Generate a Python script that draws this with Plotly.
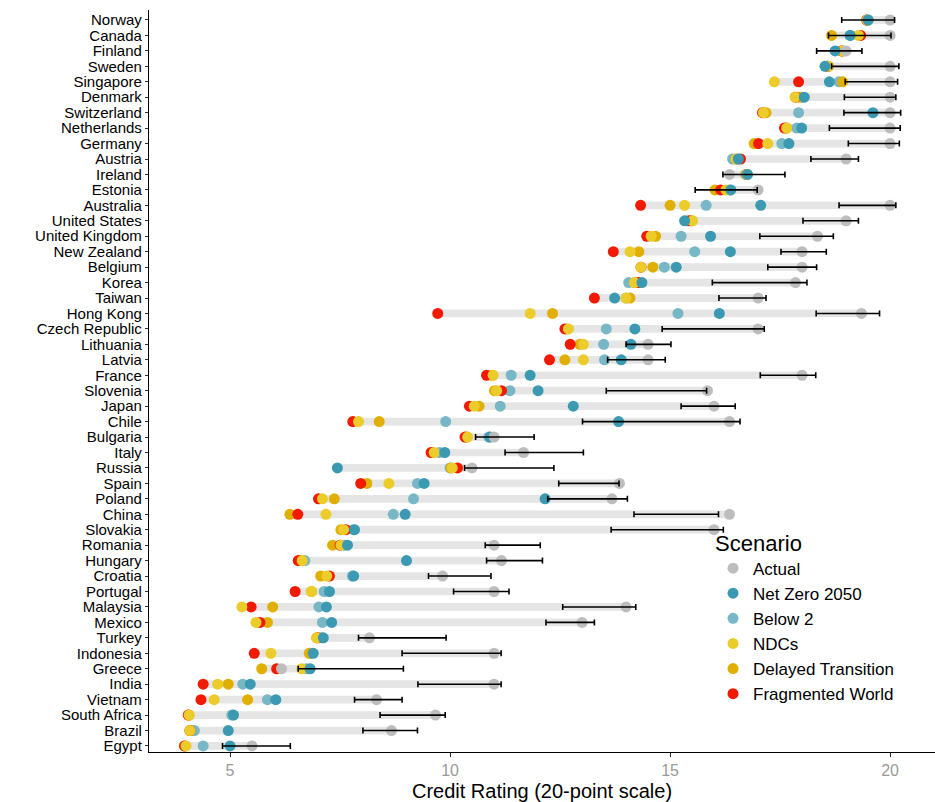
import plotly.graph_objects as go

countries = ["Norway", "Canada", "Finland", "Sweden", "Singapore", "Denmark", "Switzerland",
             "Netherlands", "Germany", "Austria", "Ireland", "Estonia", "Australia",
             "United States", "United Kingdom", "New Zealand", "Belgium", "Korea", "Taiwan",
             "Hong Kong", "Czech Republic", "Lithuania", "Latvia", "France", "Slovenia", "Japan",
             "Chile", "Bulgaria", "Italy", "Russia", "Spain", "Poland", "China", "Slovakia",
             "Romania", "Hungary", "Croatia", "Portugal", "Malaysia", "Mexico", "Turkey",
             "Indonesia", "Greece", "India", "Vietnam", "South Africa", "Brazil", "Egypt"]

actual = [20.0, 20.0, 19.0, 20.0, 20.0, 20.0, 20.0, 20.0, 20.0, 19.0, 16.35, 17.0, 20.0,
          19.0, 18.35, 18.0, 18.0, 17.85, 17.0, 19.35, 17.0, 14.5, 14.5, 18.0, 15.85, 16.0,
          16.35, 11.0, 11.67, 10.5, 13.85, 13.68, 16.35, 16.0, 11.0, 11.17, 9.83, 11.0,
          14.0, 13.0, 8.17, 11.0, 6.17, 11.0, 8.33, 9.67, 8.67, 5.5]

net_zero = [19.5, 19.09, 18.75, 18.52, 18.62, 18.05, 19.61, 17.99, 17.7, 16.55, 16.76, 16.38,
            17.06, 15.33, 15.92, 16.37, 15.14, 14.36, 13.74, 16.12, 14.2, 14.11, 13.89, 11.82,
            12.0, 12.8, 13.83, 10.91, 9.88, 7.44, 9.41, 12.16, 8.98, 7.83, 7.67, 9.01, 7.81,
            7.26, 7.19, 7.31, 7.12, 6.89, 6.82, 5.46, 6.04, 5.08, 4.96, 5.0]

below2 = [19.5, 19.1, 18.95, 18.55, 18.84, 18.0, 17.92, 17.88, 17.54, 16.42, 16.72, 16.35,
          15.82, 15.4, 15.25, 15.56, 14.87, 14.06, 14.0, 15.18, 13.55, 13.49, 13.51, 11.39,
          11.36, 11.14, 9.9, 10.88, 9.76, 10.0, 9.26, 9.17, 8.71, 7.8, 7.6, 6.7, 7.78, 7.14,
          7.02, 7.1, 7.08, 6.82, 6.74, 5.29, 5.85, 5.04, 4.19, 4.39]

ndcs = [19.48, 19.28, 18.92, 18.6, 17.37, 17.84, 17.12, 17.65, 17.22, 16.5, 16.74, 16.27,
        15.33, 15.51, 14.57, 14.09, 14.34, 14.19, 14.0, 11.82, 12.69, 13.03, 13.03, 10.98,
        11.06, 10.55, 7.92, 10.4, 9.64, 10.05, 8.61, 7.1, 7.18, 7.58, 7.52, 6.64, 7.2, 6.85,
        5.27, 5.59, 6.97, 5.93, 6.63, 4.72, 4.64, 4.07, 4.09, 4.0]

delayed = [19.47, 18.67, 18.9, 18.6, 18.92, 17.95, 17.18, 17.65, 16.91, 16.5, 16.74, 16.02,
           15.0, 15.5, 14.67, 14.29, 14.61, 14.2, 14.09, 12.33, 12.66, 12.95, 12.61, 10.95,
           11.01, 10.66, 8.39, 10.38, 9.6, 10.02, 8.11, 7.37, 6.36, 7.52, 7.33, 6.6, 7.06, 6.85,
           5.97, 5.85, 6.97, 6.8, 5.72, 4.96, 5.4, 4.07, 4.09, 3.96]

fragmented = [19.47, 19.33, 18.9, 18.58, 17.92, 17.85, 17.1, 17.6, 17.01, 16.6, 16.74, 16.15,
              14.33, 15.45, 14.47, 13.71, 14.34, 14.28, 13.28, 9.72, 12.61, 12.73, 12.26, 10.83,
              11.17, 10.44, 7.79, 10.34, 9.57, 10.17, 7.97, 7.01, 6.54, 7.63, 7.5, 6.55, 7.26,
              6.48, 5.48, 5.68, 7.0, 5.55, 6.06, 4.39, 4.34, 4.05, 4.09, 3.97]

err_lo = [18.9, 18.6, 18.33, 18.67, 18.98, 18.96, 18.95, 18.62, 19.05, 18.2, 16.2, 15.57,
          18.84, 18.02, 17.04, 17.52, 17.22, 15.96, 16.11, 18.32, 14.82, 14.0, 13.58, 17.05,
          13.55, 15.25, 13.01, 10.58, 11.25, 10.33, 12.47, 12.22, 14.18, 13.66, 10.8, 10.83,
          9.51, 10.08, 12.56, 12.18, 7.92, 8.91, 6.55, 9.27, 7.83, 8.41, 8.02, 4.83]

err_hi = [20.1, 20.02, 19.36, 20.2, 20.17, 20.13, 20.24, 20.23, 20.21, 19.28, 17.61, 16.98,
          20.13, 19.28, 18.71, 18.55, 18.33, 18.11, 17.18, 19.76, 17.14, 15.02, 14.89, 18.31,
          15.83, 16.48, 16.59, 11.91, 13.03, 12.36, 13.84, 14.03, 16.1, 16.21, 12.05, 12.1,
          10.93, 11.34, 14.22, 13.28, 9.91, 11.16, 8.94, 11.16, 8.91, 9.89, 9.26, 6.37]

x_ticks = [5, 10, 15, 20]

FONT = "Liberation Sans, Arial, sans-serif"

series = {
    "Actual": (actual, "#BDBDBD", 1),
    "Net Zero 2050": (net_zero, "#3B9AB2", 2),
    "Below 2": (below2, "#78B7C5", 3),
    "NDCs": (ndcs, "#EBCC2A", 4),
    "Delayed Transition": (delayed, "#E1AF00", 5),
    "Fragmented World": (fragmented, "#F21A00", 6),
}
draw_order = ["Below 2", "Delayed Transition", "Fragmented World", "NDCs", "Net Zero 2050", "Actual"]

all_vals = [actual, net_zero, below2, ndcs, delayed, fragmented]
row_min = [min(v[i] for v in all_vals) for i in range(len(countries))]
row_max = [max(v[i] for v in all_vals) for i in range(len(countries))]

fig = go.Figure()

fig.add_trace(go.Bar(
    y=countries, x=[hi - lo for lo, hi in zip(row_min, row_max)], base=row_min,
    orientation="h", width=0.5, marker=dict(color="#E5E5E5", line=dict(width=0)),
    showlegend=False, hoverinfo="skip"))

for name in draw_order:
    vals, col, rank = series[name]
    fig.add_trace(go.Scatter(
        x=vals, y=countries, mode="markers", name=name, legendrank=rank,
        marker=dict(color=col, size=11, line=dict(width=0))))

mid = [(lo + hi) / 2 for lo, hi in zip(err_lo, err_hi)]
half = [(hi - lo) / 2 for lo, hi in zip(err_lo, err_hi)]
fig.add_trace(go.Scatter(
    x=mid, y=countries, mode="markers", marker=dict(size=1, opacity=0),
    error_x=dict(type="data", array=half, symmetric=True, color="black",
                 thickness=1.6, width=3),
    showlegend=False, hoverinfo="skip"))

fig.update_layout(
    width=935, height=802,
    margin=dict(l=149, r=0, t=10, b=50),
    plot_bgcolor="white", paper_bgcolor="white",
    font=dict(family=FONT, color="black"),
    barmode="overlay",
    xaxis=dict(range=[3.159, 21.02], tickvals=x_ticks, showgrid=False, zeroline=False,
               automargin=False,
               showline=True, linecolor="black", linewidth=1.3,
               ticks="outside", ticklen=4, tickcolor="#333333",
               tickfont=dict(size=16, color="#9A9A9A", family=FONT),
               title=dict(text="Credit Rating (20-point scale)",
                          font=dict(size=20, color="black", family=FONT), standoff=10)),
    yaxis=dict(type="category", categoryorder="array", categoryarray=countries,
               tickmode="array", tickvals=countries, ticktext=countries,
               automargin=False,
               range=[47.39, -0.647], showgrid=False, zeroline=False,
               showline=True, linecolor="black", linewidth=1.3,
               ticks="outside", ticklen=3, tickcolor="#333333",
               tickfont=dict(size=15, color="black", family=FONT)),
    legend=dict(x=0.7176, y=0.31, xanchor="left", yanchor="top",
                bgcolor="rgba(0,0,0,0)",
                title=dict(text="Scenario", font=dict(size=22, family=FONT)),
                font=dict(size=17, family=FONT)),
)

fig.write_html("out.html")
